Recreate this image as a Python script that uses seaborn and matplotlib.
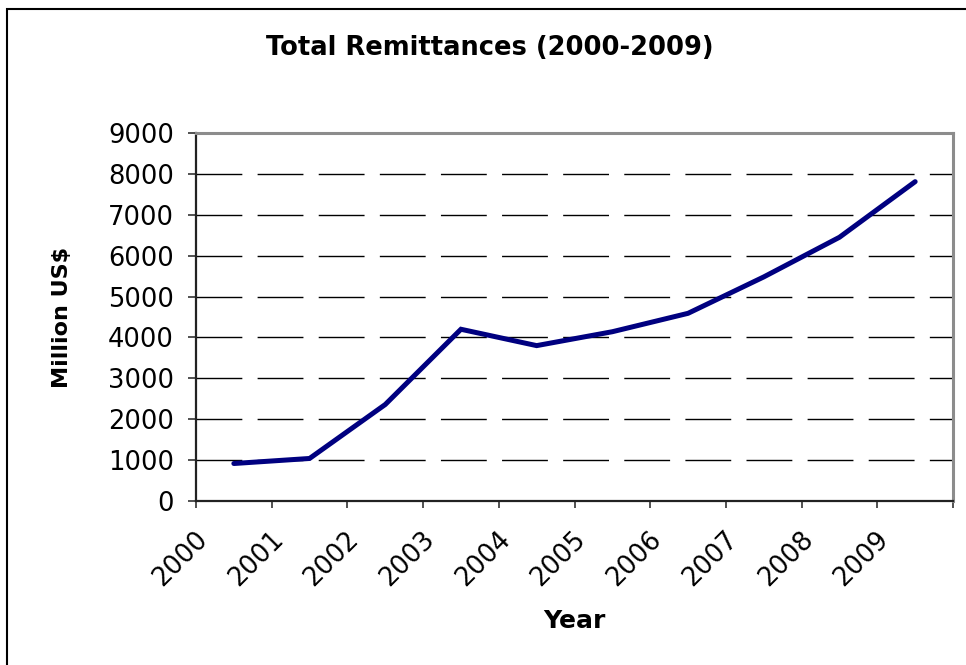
import matplotlib
matplotlib.use("Agg")
import matplotlib.pyplot as plt
import matplotlib.transforms as mtransforms
from matplotlib.patches import Rectangle
import seaborn as sns
import pandas as pd

years = ["2000", "2001", "2002", "2003", "2004", "2005", "2006", "2007", "2008", "2009"]
remittances = [917, 1040, 2360, 4200, 3800, 4140, 4590, 5480, 6450, 7810]
y_ticks = [0, 1000, 2000, 3000, 4000, 5000, 6000, 7000, 8000, 9000]

sns.set_theme(style="white")
plt.rcParams["font.family"] = ["DejaVu Sans"]
plt.rcParams["text.color"] = "black"
plt.rcParams["axes.labelcolor"] = "black"
plt.rcParams["xtick.color"] = "black"
plt.rcParams["ytick.color"] = "black"

df = pd.DataFrame({"Year": years, "Value": remittances})
df["pos"] = range(len(years))

fig = plt.figure(figsize=(9.66, 6.65), dpi=100)
ax = fig.add_axes([196 / 966, 1 - 501 / 665, (953 - 196) / 966, (501 - 133) / 665])

sns.lineplot(data=df, x="pos", y="Value", ax=ax, color="#000080", linewidth=3.6,
             solid_joinstyle="miter", solid_capstyle="round")

ax.set_xlim(-0.5, len(years) - 0.5)
ax.set_ylim(0, 9000)
ax.set_yticks(y_ticks)
ax.set_yticklabels([str(v) for v in y_ticks], fontsize=18.5)

# category boundaries as major ticks, labels at centres
ax.set_xticks([i - 0.5 for i in range(len(years) + 1)])
ax.set_xticklabels([""] * (len(years) + 1))
ax.set_xticks(list(range(len(years))), minor=True)
ax.set_xticklabels(years, minor=True, rotation=45, ha="right", fontsize=18.5)
ax.tick_params(axis="x", which="major", direction="out", length=5, width=1.2, color="#333333", bottom=True)
ax.tick_params(axis="x", which="minor", length=0, pad=18)
ax.tick_params(axis="y", direction="out", length=6, width=1.2, color="#333333", left=True, pad=10)
offset = mtransforms.ScaledTranslation(-21 / 100, 0, fig.dpi_scale_trans)
for lab in ax.get_xticklabels(minor=True):
    lab.set_transform(lab.get_transform() + offset)

# dashed horizontal gridlines
for v in y_ticks[1:-1]:
    ax.axhline(v, color="black", linewidth=1.0, dashes=(33, 11), zorder=0)

for side in ["left", "bottom"]:
    ax.spines[side].set_color("#222222")
    ax.spines[side].set_linewidth(1.6)
for side in ["top", "right"]:
    ax.spines[side].set_color("#8c8c8c")
    ax.spines[side].set_linewidth(2.2)
    ax.spines[side].set_visible(True)

ax.set_xlabel("Year", fontsize=18, fontweight="bold", labelpad=13)
ax.set_ylabel("Million US$", fontsize=16, fontweight="bold", labelpad=26)

fig.text(490 / 966, 1 - 48 / 665, "Total Remittances (2000-2009)", fontsize=18.5,
         fontweight="bold", ha="center", va="center")

# outer chart frame
fig.patches.append(Rectangle((7 / 966, -0.1), 1.2, 1 - 9 / 665 + 0.1, transform=fig.transFigure,
                             fill=False, edgecolor="black", linewidth=1.5))

fig.savefig("out.png", dpi=100, facecolor="white")
